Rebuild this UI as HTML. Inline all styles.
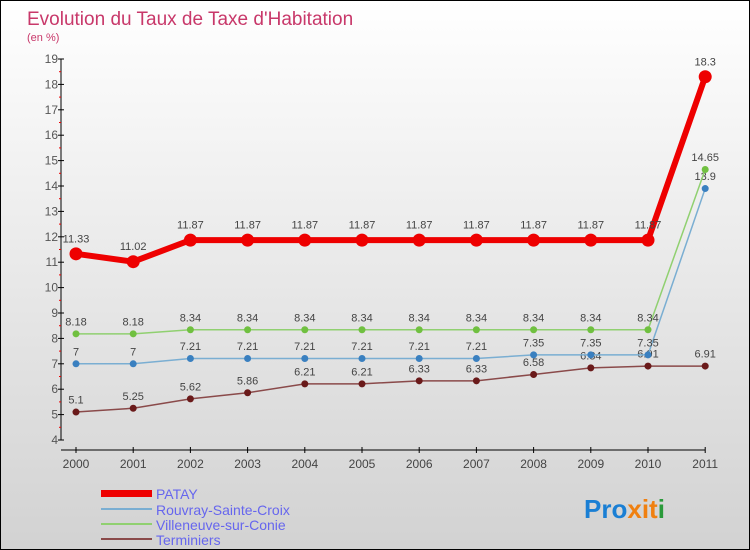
<!DOCTYPE html>
<html><head><meta charset="utf-8"><style>
body{margin:0}
#c{width:750px;height:550px;position:relative;box-sizing:border-box;border:1px solid #000;background:linear-gradient(#ffffff,#d2d2d2);font-family:"Liberation Sans",sans-serif;overflow:hidden}
</style></head><body>
<div id="c">
<svg id="s" width="748" height="548" style="position:absolute;left:0;top:0">
<text x="26" y="24" font-size="19" fill="#c8386a">Evolution du Taux de Taxe d'Habitation</text>
<text x="26" y="40" font-size="11" fill="#c8386a">(en %)</text>
<g id="axes"></g><g id="series"></g>
<g>
<rect x="100" y="489" width="51" height="7" fill="#e00"/>
<text x="155" y="498" font-size="14" fill="#6666ee">PATAY</text>
<rect x="100" y="507" width="51" height="2" fill="#7aaed2"/>
<text x="155" y="514" font-size="14" fill="#6666ee">Rouvray-Sainte-Croix</text>
<rect x="100" y="522" width="51" height="2" fill="#90d070"/>
<text x="155" y="529" font-size="14" fill="#6666ee">Villeneuve-sur-Conie</text>
<rect x="100" y="537" width="51" height="2" fill="#8a4a4a"/>
<text x="155" y="544" font-size="14" fill="#6666ee">Terminiers</text>
</g>
<text x="583" y="517" font-size="26" font-weight="bold"><tspan fill="#1a7fd4">Pro</tspan><tspan fill="#f08010">x</tspan><tspan fill="#f08010">i</tspan><tspan fill="#f08010">t</tspan><tspan fill="#2a9a3a">i</tspan></text>
</svg>
</div>
<script>
const years=["2000","2001","2002","2003","2004","2005","2006","2007","2008","2009","2010","2011"];
const yTicks=[4,5,6,7,8,9,10,11,12,13,14,15,16,17,18,19];
const patay=[11.33,11.02,11.87,11.87,11.87,11.87,11.87,11.87,11.87,11.87,11.87,18.3];
const rouvray=[7,7,7.21,7.21,7.21,7.21,7.21,7.21,7.35,7.35,7.35,13.9];
const villeneuve=[8.18,8.18,8.34,8.34,8.34,8.34,8.34,8.34,8.34,8.34,8.34,14.65];
const terminiers=[5.1,5.25,5.62,5.86,6.21,6.21,6.33,6.33,6.58,6.84,6.91,6.91];
const NS="http://www.w3.org/2000/svg";
function xs(i){return 75+i*57.2;}
function ys(v){return 439-(v-4)*25.4;}
function mk(tag,at,parent){const e=document.createElementNS(NS,tag);for(const k in at)e.setAttribute(k,at[k]);parent.appendChild(e);return e;}
const ax=document.getElementById('axes');
let yl=mk('line',{x1:60,y1:ys(19),x2:60,y2:439,stroke:'#000'},ax);


let xl=mk('line',{x1:60,y1:449,x2:xs(11),y2:449,stroke:'#000'},ax);


yTicks.forEach(v=>{
 mk('line',{x1:57,y1:ys(v),x2:63,y2:ys(v),stroke:'#000'},ax);
 if(v<19) mk('line',{x1:58,y1:ys(v+0.5),x2:60,y2:ys(v+0.5),stroke:'#e00'},ax);
 const t=mk('text',{x:57,y:ys(v)+4,'font-size':12,fill:'#555','text-anchor':'end'},ax);
 t.textContent=v;
 
 
});
years.forEach((y,i)=>{
 mk('line',{x1:xs(i),y1:446,x2:xs(i),y2:452,stroke:'#000'},ax);
 const t=mk('text',{x:xs(i),y:467,'font-size':12,fill:'#444','text-anchor':'middle'},ax);
 t.textContent=y;
 
 
});
const sg=document.getElementById('series');
function draw(name,data,color,w,r,dot){
 const g=mk('g',{},sg);
 
 
 const p=mk('polyline',{points:data.map((v,i)=>xs(i)+','+ys(v)).join(' '),fill:'none',stroke:color,'stroke-width':w},g);
 
 
 data.forEach((v,i)=>{
  const c=mk('circle',{cx:xs(i),cy:ys(v),r:r,fill:dot},g);
  
  
  const t=mk('text',{x:xs(i),y:ys(v)-(r+5),'font-size':11,fill:'#444','text-anchor':'middle'},g);
  t.textContent=v;
  
  
 });
}
draw('terminiers',terminiers,'#8a4a4a',1.5,3.5,'#6a1a1a');
draw('rouvray',rouvray,'#7aaed2',1.5,3.5,'#3a80c0');
draw('villeneuve',villeneuve,'#90d070',1.5,3.5,'#70c040');
draw('patay',patay,'#e00',6,6.5,'#e00');
</script>
</body></html>
